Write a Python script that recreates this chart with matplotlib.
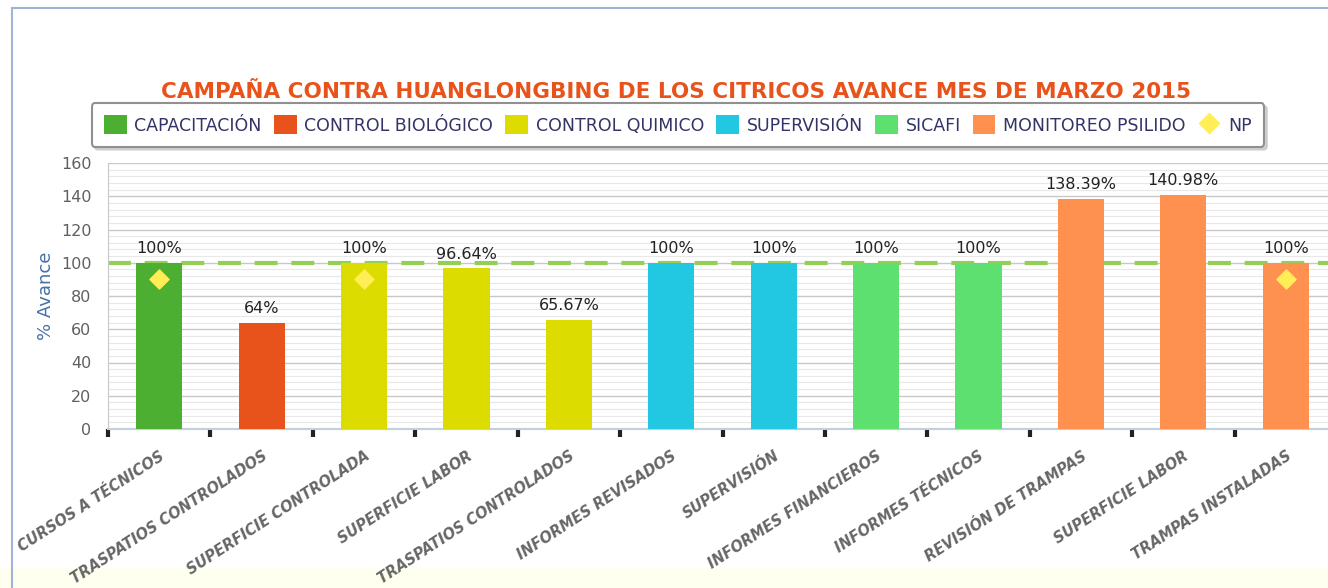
import matplotlib
matplotlib.use("Agg")
import matplotlib.pyplot as plt
from matplotlib.patches import Patch, Rectangle
from matplotlib.lines import Line2D
from matplotlib.ticker import MultipleLocator

categories = ["CURSOS A TÉCNICOS", "TRASPATIOS CONTROLADOS", "SUPERFICIE CONTROLADA",
              "SUPERFICIE LABOR", "TRASPATIOS CONTROLADOS", "INFORMES REVISADOS",
              "SUPERVISIÓN", "INFORMES FINANCIEROS", "INFORMES TÉCNICOS",
              "REVISIÓN DE TRAMPAS", "SUPERFICIE LABOR", "TRAMPAS INSTALADAS"]
values = [100, 64, 100, 96.64, 65.67, 100, 100, 100, 100, 138.39, 140.98, 100]
value_labels = ["100%", "64%", "100%", "96.64%", "65.67%", "100%", "100%", "100%",
                "100%", "138.39%", "140.98%", "100%"]
groups = ["CAPACITACIÓN", "CONTROL BIOLÓGICO", "CONTROL QUIMICO", "CONTROL QUIMICO",
          "CONTROL QUIMICO", "SUPERVISIÓN", "SUPERVISIÓN", "SICAFI", "SICAFI",
          "MONITOREO PSILIDO", "MONITOREO PSILIDO", "MONITOREO PSILIDO"]
series_names = ["CAPACITACIÓN", "CONTROL BIOLÓGICO", "CONTROL QUIMICO", "SUPERVISIÓN",
                "SICAFI", "MONITOREO PSILIDO"]
series_colors = ["#4DAF32", "#E8531B", "#DCDC00", "#22C8E2", "#5EE070", "#FF9150"]
np_positions = [0, 2, 11]
np_values = [90, 90, 90]
target = 100

color_map = dict(zip(series_names, series_colors))

fig = plt.figure(figsize=(13.28, 5.88), dpi=100)
fig.patch.set_facecolor("white")
fig.add_artist(Rectangle((0, 0), 1, 20 / 588, transform=fig.transFigure,
                         facecolor="#FFFFF0", edgecolor="none", zorder=0))
fig.add_artist(Line2D([12 / 1328, 12 / 1328], [0, 1 - 8 / 588], transform=fig.transFigure,
                      color="#9FB5D5", lw=1.5))
fig.add_artist(Line2D([12 / 1328, 1], [1 - 8 / 588, 1 - 8 / 588], transform=fig.transFigure,
                      color="#9FB5D5", lw=1.5))

ax = fig.add_axes([108 / 1328, 1 - 429 / 588, 1229 / 1328, 266 / 588])
x = list(range(len(categories)))
ax.bar(x, values, width=0.45, color=[color_map[g] for g in groups], zorder=3)
ax.set_xlim(-0.5, len(categories) - 0.5)
ax.set_ylim(0, 160)

ax.axhline(target, color="#93CF55", lw=3, dashes=(5.5, 3.3), zorder=2)

for xi, v, lab in zip(x, values, value_labels):
    ax.text(xi, v + 4, lab, ha="center", va="bottom", fontsize=11.5, color="#222222", zorder=5)

ax.scatter(np_positions, np_values, marker="D", s=95, color="#FFEE55", zorder=4)

ax.yaxis.set_major_locator(MultipleLocator(20))
ax.yaxis.set_minor_locator(MultipleLocator(4))
ax.grid(axis="y", which="major", color="#C8C8C8", lw=1, zorder=0)
ax.grid(axis="y", which="minor", color="#E8E8E8", lw=0.8, zorder=0)
ax.tick_params(axis="y", which="both", length=0, labelsize=11.5, labelcolor="#606060", pad=12)

ax.set_xticks([i - 0.5 for i in x], minor=False)
ax.set_xticklabels([])
ax.set_xticks(x, minor=True)
ax.set_xticklabels(categories, minor=True, rotation=33, ha="right", rotation_mode="anchor",
                   fontsize=10.5, fontweight="bold", fontstyle="italic", color="#666666")
ax.tick_params(axis="x", which="major", length=6, width=3, color="#222222", direction="out")
ax.tick_params(axis="x", which="minor", length=0, pad=14)

for s in ["top", "right"]:
    ax.spines[s].set_visible(False)
ax.spines["left"].set_color("#C8C8C8")
ax.spines["bottom"].set_color("#C0D0E0")
ax.spines["bottom"].set_linewidth(1.5)

ax.set_ylabel("% Avance", fontsize=13, color="#4572A7", labelpad=4)

fig.text(676 / 1328, 1 - 92 / 588, "CAMPAÑA CONTRA HUANGLONGBING DE LOS CITRICOS AVANCE MES DE MARZO 2015",
         ha="center", va="center", fontsize=15.5, fontweight="bold", color="#E8531B")

handles = [Patch(facecolor=c, edgecolor="none", label=n) for n, c in zip(series_names, series_colors)]
handles.append(Line2D([], [], marker="D", color="none", markerfacecolor="#FFEE55",
                      markeredgecolor="none", markersize=11, label="NP"))
leg = fig.legend(handles=handles, loc="center", bbox_to_anchor=(678 / 1328, 1 - 125 / 588),
                 ncol=7, frameon=True, fontsize=12.5, handlelength=1.3, handleheight=1.3,
                 columnspacing=0.7, handletextpad=0.45, borderpad=0.7, fancybox=True,
                 shadow={"color": "#BBBBBB", "alpha": 0.6})
for t in leg.get_texts():
    t.set_color("#333366")
fr = leg.get_frame()
fr.set_edgecolor("#909090")
fr.set_linewidth(1.5)
fr.set_facecolor("white")

fig.savefig("out.png", dpi=100)
